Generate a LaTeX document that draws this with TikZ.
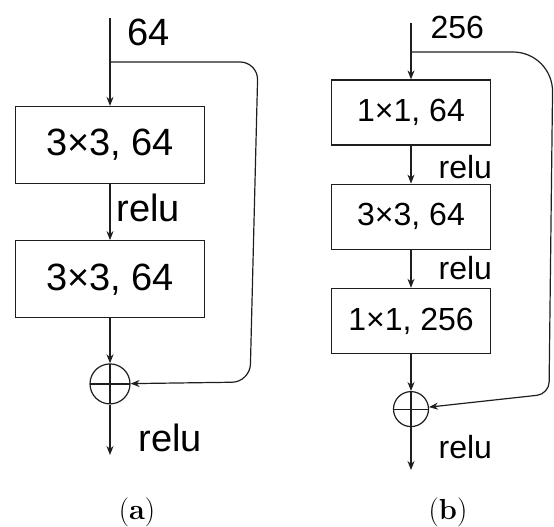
\documentclass[tikz,border=0pt]{standalone}
\usepackage{fontspec}
\usepackage{tikz}
\usetikzlibrary{
  arrows.meta,
  positioning
}
\newfontfamily\arialfont{Liberation Sans}
\definecolor{linegray}{RGB}{30,30,30}

\begin{document}
\begin{tikzpicture}[
            x=1pt, y=-1pt,
            line width=1.2pt, draw=linegray,
            bigtxt/.style={font=\arialfont\fontsize{38}{40}\selectfont},
            smalltxt/.style={font=\arialfont\fontsize{32}{34}\selectfont},
            layer/.style={draw=linegray, line width=1.2pt, inner sep=0pt, align=center},
            addop/.style={draw=linegray, circle, inner sep=0pt, minimum size=#1,
                path picture={\draw[linegray] (path picture bounding box.north) -- (path picture bounding box.south)
                    (path picture bounding box.west) -- (path picture bounding box.east);}},
            lbl/.style={anchor=west, inner sep=0pt},
            subcap/.style={inner sep=0pt, font=\fontsize{29}{31}\selectfont},
            arr/.style={-{Stealth[length=9pt,width=7pt]}}
        ]
            \useasboundingbox (0,0) rectangle (554,527);

            % (a) basic block: two 3x3 layers
            \node[layer, bigtxt, minimum width=189pt, minimum height=77pt] (a1) at (110,145) {3×3, 64};
            \node[layer, bigtxt, minimum width=189pt, minimum height=77pt, below=56pt of a1] (a2) {3×3, 64};
            \node[addop=40pt, below=45pt of a2] (asum) {};
            \coordinate (ain) at (110,18);
            \coordinate (asplit) at (110,62);
            \coordinate (askipa) at (258,62);
            \coordinate (askipb) at (250,382);
            \coordinate (aout) at (110,455);
            \node[lbl, bigtxt] (adim) at (127,32) {64};
            \node[lbl, bigtxt] (arelua) at (116,208) {relu};
            \node[lbl, bigtxt] (arelub) at (138,438) {relu};
            \node[subcap] (acap) at (137,512) {(\textbf{a})};

            \draw[arr] (ain) -- (a1);
            \draw[arr] (a1) -- (a2);
            \draw[arr] (a2) -- (asum);
            \draw[arr] (asum) -- (aout);
            \draw[arr, rounded corners=18pt] (asplit) -- (askipa) -- (askipb) -- (asum);

            % (b) bottleneck block: 1x1, 3x3, 1x1
            \node[layer, smalltxt, minimum width=159pt, minimum height=65pt] (b1) at (411,112.5) {1×1, 64};
            \node[layer, smalltxt, minimum width=159pt, minimum height=65pt, below=38pt of b1] (b2) {3×3, 64};
            \node[layer, smalltxt, minimum width=159pt, minimum height=65pt, below=38pt of b2] (b3) {1×1, 256};
            \node[addop=35pt, below=37pt of b3] (bsum) {};
            \coordinate (bin) at (411,23);
            \coordinate (bsplit) at (411,52);
            \coordinate (bskipa) at (553,52);
            \coordinate (bskipb) at (549,394);
            \coordinate (bout) at (411,470);
            \node[lbl, smalltxt] (bdim) at (430,27) {256};
            \node[lbl, smalltxt] (brelua) at (438,167) {relu};
            \node[lbl, smalltxt] (brelub) at (438,268) {relu};
            \node[lbl, smalltxt] (breluc) at (438,447) {relu};
            \node[subcap] (bcap) at (448,512) {(\textbf{b})};

            \draw[arr] (bin) -- (b1);
            \draw[arr] (b1) -- (b2);
            \draw[arr] (b2) -- (b3);
            \draw[arr] (b3) -- (bsum);
            \draw[arr] (bsum) -- (bout);
            \draw[arr] (bsplit) [rounded corners=40pt] -- (bskipa) [rounded corners=12pt] -- (bskipb) -- (bsum);
        \end{tikzpicture}
\end{document}
